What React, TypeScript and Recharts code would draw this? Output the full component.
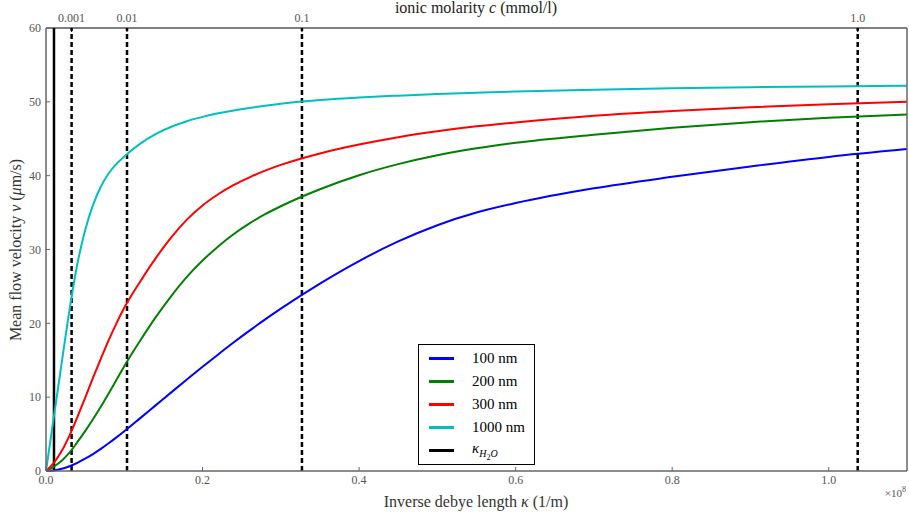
import React from "react";
import {
  LineChart,
  Line,
  XAxis,
  YAxis,
  ReferenceLine,
  Legend,
} from "recharts";

// inverse debye length (units of 1e8 1/m)
const kappa = [0, 0.01, 0.02, 0.03, 0.04, 0.05, 0.06, 0.07, 0.08, 0.09, 0.1, 0.12, 0.14, 0.16, 0.18, 0.2, 0.22, 0.24, 0.26, 0.28, 0.3, 0.35, 0.4, 0.45, 0.5, 0.55, 0.6, 0.7, 0.8, 0.9, 1.0, 1.1];

// mean flow velocity (um/s) per channel size
const v100 = [0, 0.08, 0.3, 0.65, 1.11, 1.66, 2.29, 2.99, 3.75, 4.55, 5.39, 7.13, 8.89, 10.65, 12.39, 14.11, 15.79, 17.43, 19.01, 20.53, 21.99, 25.39, 28.44, 31.09, 33.29, 35.0, 36.29, 38.29, 39.84, 41.24, 42.54, 43.6];
const v200 = [0, 0.6, 1.4, 2.5, 3.9, 5.4, 7.0, 8.7, 10.5, 12.35, 14.2, 17.6, 20.8, 23.7, 26.3, 28.5, 30.42, 32.1, 33.54, 34.78, 35.86, 38.16, 40.06, 41.56, 42.76, 43.7, 44.45, 45.55, 46.5, 47.25, 47.85, 48.3];
const v300 = [0, 1.1, 2.7, 4.8, 7.3, 9.9, 12.6, 15.2, 17.7, 20.0, 22.1, 25.6, 28.8, 31.64, 34.04, 35.96, 37.48, 38.74, 39.78, 40.68, 41.46, 43.01, 44.21, 45.21, 46.01, 46.68, 47.21, 48.11, 48.76, 49.26, 49.68, 50.02];
const v1000 = [0, 7.3, 14.6, 21.8, 28.0, 32.6, 36.0, 38.5, 40.3, 41.6, 42.6, 44.3, 45.62, 46.62, 47.38, 47.96, 48.44, 48.84, 49.18, 49.48, 49.74, 50.24, 50.59, 50.84, 51.06, 51.24, 51.4, 51.65, 51.84, 51.98, 52.08, 52.17];

// ionic molarity (mmol/l) and matching kappa position
const molarity = ["0.001", "0.01", "0.1", "1.0"];
const molarityKappa = [0.0327, 0.1035, 0.327, 1.037];
const kappaWater = 0.0102;

const xTicks = [0, 0.2, 0.4, 0.6, 0.8, 1.0];
const yTicks = [0, 10, 20, 30, 40, 50, 60];

const series = [
  { key: "v100", name: "100 nm", color: "#0000ff" },
  { key: "v200", name: "200 nm", color: "#008000" },
  { key: "v300", name: "300 nm", color: "#ff0000" },
  { key: "v1000", name: "1000 nm", color: "#00bfbf" },
];

const data = kappa.map((k, i) => ({
  k,
  v100: v100[i],
  v200: v200[i],
  v300: v300[i],
  v1000: v1000[i],
}));

const FONT = "'Liberation Serif', 'DejaVu Serif', serif";
const tickStyle = { fontSize: 12, fill: "#555", fontFamily: FONT };
const GREY = "#666";

function LegendBox() {
  const rowStyle: React.CSSProperties = { display: "flex", alignItems: "center", height: 23 };
  return (
    <div style={{ border: "1px solid #000", background: "#fff", padding: "2px 0", width: 115, fontFamily: FONT, fontSize: 15, color: "#000" }}>
      {series.map((s) => (
        <div key={s.key} style={rowStyle}>
          <div style={{ marginLeft: 10, width: 25, height: 2.5, background: s.color }} />
          <span style={{ marginLeft: 18 }}>{s.name}</span>
        </div>
      ))}
      <div style={rowStyle}>
        <div style={{ marginLeft: 10, width: 25, height: 2.5, background: "#000" }} />
        <span style={{ marginLeft: 18 }}>
          <i>κ</i>
          <sub style={{ fontSize: 10 }}>
            <i>H</i>
            <sub style={{ fontSize: 8 }}>2</sub>
            <i>O</i>
          </sub>
        </span>
      </div>
    </div>
  );
}

export default function App() {
  return (
    <div style={{ position: "absolute", left: 0, top: 0, fontFamily: FONT }}>
      <LineChart width={909} height={518} data={data} margin={{ top: 0, right: 0, bottom: 0, left: 0 }}>
        <XAxis
          xAxisId="top"
          orientation="top"
          type="number"
          dataKey="k"
          domain={[0, 1.1]}
          ticks={molarityKappa}
          tickFormatter={(v: number) => molarity[molarityKappa.indexOf(v)] ?? ""}
          height={28}
          tickSize={-4}
          tickMargin={10}
          tick={tickStyle}
          axisLine={{ stroke: "#000", strokeWidth: 1.2 }}
          tickLine={{ stroke: "#000" }}
          interval={0}
          label={() => (
            <text x={476} y={13} textAnchor="middle" fontFamily={FONT} fontSize={16} fill="#222">
              ionic molarity <tspan fontStyle="italic">c</tspan> (mmol/l)
            </text>
          )}
        />
        <XAxis
          type="number"
          dataKey="k"
          domain={[0, 1.1]}
          ticks={xTicks}
          tickFormatter={(v: number) => v.toFixed(1)}
          height={47}
          tickSize={-4}
          tickMargin={8}
          tick={tickStyle}
          axisLine={{ stroke: GREY, strokeWidth: 1.5 }}
          tickLine={{ stroke: GREY }}
          interval={0}
          label={() => (
            <g>
              <text x={476} y={507} textAnchor="middle" fontFamily={FONT} fontSize={16} fill="#333">
                Inverse debye length <tspan fontStyle="italic">κ</tspan> (1/m)
              </text>
              <text x={906} y={497} textAnchor="end" fontFamily={FONT} fontSize={11} fill="#555">
                ×10<tspan dy={-5} fontSize={8}>8</tspan>
              </text>
            </g>
          )}
        />
        <YAxis
          type="number"
          domain={[0, 60]}
          ticks={yTicks}
          width={46}
          tickSize={-4}
          tickMargin={9}
          tick={tickStyle}
          axisLine={{ stroke: GREY, strokeWidth: 1.5 }}
          tickLine={{ stroke: GREY }}
          interval={0}
          label={() => (
            <text x={17} y={250} transform="rotate(-90 17 250)" textAnchor="middle" dominantBaseline="middle" fontFamily={FONT} fontSize={16} fill="#333">
              Mean flow velocity <tspan fontStyle="italic">v</tspan> (<tspan fontStyle="italic">μ</tspan>m/s)
            </text>
          )}
        />
        <YAxis
          yAxisId="r"
          orientation="right"
          type="number"
          domain={[0, 60]}
          ticks={yTicks}
          width={2}
          tickSize={-4}
          tick={() => <g />}
          axisLine={{ stroke: GREY, strokeWidth: 1.5 }}
          tickLine={{ stroke: GREY }}
          interval={0}
        />
        {molarityKappa.map((k) => (
          <ReferenceLine key={k} x={k} stroke="#000" strokeWidth={2.5} strokeDasharray="5 3" />
        ))}
        <ReferenceLine x={kappaWater} stroke="#000" strokeWidth={2.5} />
        {series.map((s) => (
          <Line
            key={s.key}
            type="monotone"
            dataKey={s.key}
            name={s.name}
            stroke={s.color}
            strokeWidth={2}
            dot={false}
            isAnimationActive={false}
          />
        ))}
        <Legend
          layout="vertical"
          align="center"
          verticalAlign="middle"
          content={() => <LegendBox />}
          wrapperStyle={{ left: 418, top: 344, width: "auto", height: "auto" }}
        />
      </LineChart>
    </div>
  );
}
